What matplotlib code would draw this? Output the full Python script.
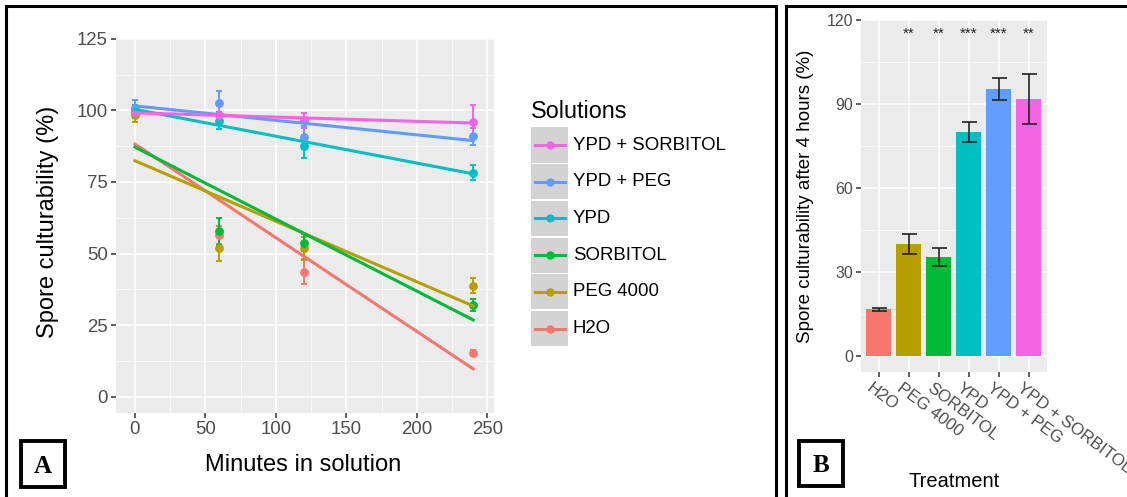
import numpy as np
import matplotlib
matplotlib.use("Agg")
import matplotlib.pyplot as plt
from matplotlib.patches import Rectangle
from matplotlib.lines import Line2D

plt.rcParams['font.family'] = ['Liberation Sans', 'DejaVu Sans']

# ---- data, panel A (spore culturability over time) ----
minutes = [0, 60, 120, 240]
solutions = ['H2O', 'PEG 4000', 'SORBITOL', 'YPD', 'YPD + PEG', 'YPD + SORBITOL']
h2o = [100.0, 56.5, 43.7, 15.4]
h2o_err = [2.0, 3.0, 4.5, 1.0]
peg4000 = [98.5, 51.8, 51.8, 38.8]
peg4000_err = [2.5, 4.5, 4.0, 2.5]
sorbitol = [99.5, 57.8, 53.8, 32.0]
sorbitol_err = [2.0, 4.7, 3.0, 2.0]
ypd = [100.0, 96.4, 87.4, 78.3]
ypd_err = [2.0, 3.0, 4.0, 2.5]
ypd_peg = [101.0, 102.6, 90.6, 90.9]
ypd_peg_err = [2.5, 4.3, 4.0, 3.0]
ypd_sorbitol = [99.5, 98.4, 96.5, 96.0]
ypd_sorbitol_err = [1.0, 3.0, 2.5, 6.0]

# ---- data, panel B (after 4 hours) ----
treatments = ['H2O', 'PEG 4000', 'SORBITOL', 'YPD', 'YPD + PEG', 'YPD + SORBITOL']
after_4h = [16.7, 39.9, 35.4, 80.0, 95.4, 91.8]
after_4h_err = [0.6, 3.6, 3.3, 3.4, 3.9, 9.0]
signif = ['', '**', '**', '***', '***', '**']
star_y = 115

colors = ['#F8766D', '#B79F00', '#00BA38', '#00BFC4', '#619CFF', '#F564E3']
series = [(h2o, h2o_err), (peg4000, peg4000_err), (sorbitol, sorbitol_err),
          (ypd, ypd_err), (ypd_peg, ypd_peg_err), (ypd_sorbitol, ypd_sorbitol_err)]

W, H = 1127, 497
fig = plt.figure(figsize=(W / 100, H / 100), dpi=100)


def box(x0, y0, x1, y1):
    # pixel box (top-left origin) -> figure fraction rect
    return [x0 / W, 1 - y1 / H, (x1 - x0) / W, (y1 - y0) / H]


def gg_style(ax):
    ax.set_facecolor('#EBEBEB')
    for s in ax.spines.values():
        s.set_visible(False)
    ax.grid(which='major', color='white', linewidth=1.1)
    ax.grid(which='minor', color='white', linewidth=0.5)
    ax.set_axisbelow(True)
    ax.tick_params(which='major', color='#333333', labelcolor='#4D4D4D', length=3.5, width=1.1, pad=2)
    ax.tick_params(which='minor', length=0)


# ---------------- panel A ----------------
axA = fig.add_axes(box(115.5, 38, 494, 413.3))
gg_style(axA)
axA.set_xlim(-13.8, 254.8)
axA.set_ylim(-5.8, 125.3)
axA.set_xticks([0, 50, 100, 150, 200, 250])
axA.set_xticks([25, 75, 125, 175, 225], minor=True)
axA.set_yticks([0, 25, 50, 75, 100, 125])
axA.set_yticks([12.5, 37.5, 62.5, 87.5, 112.5], minor=True)
axA.tick_params(labelsize=13.4)

x = np.array(minutes, dtype=float)
for (vals, errs), c in zip(series, colors):
    axA.errorbar(minutes, vals, yerr=errs, fmt='o', color=c, ms=5.3, capsize=2.2,
                 elinewidth=1.4, capthick=1.4, zorder=3)
    slope, icpt = np.polyfit(x, vals, 1)
    axA.plot(x, icpt + slope * x, color=c, lw=2.2, zorder=4)

fig.text(303 / W, 1 - 470.7 / H, 'Minutes in solution', ha='center', va='baseline', fontsize=17)
fig.text(48 / W, 1 - 222 / H, 'Spore culturability (%)', ha='center', va='center',
         rotation=90, fontsize=17)

# legend (reversed order, ggplot style)
fig.text(531 / W, 1 - 118.3 / H, 'Solutions', ha='left', va='baseline', fontsize=16.8)
key_top, key_h = 126.7, 36.7
for i, (name, c) in enumerate(zip(solutions[::-1], colors[::-1])):
    y0 = key_top + i * key_h
    fig.patches.append(Rectangle((531 / W, 1 - (y0 + key_h - 0.8) / H), 37.3 / W, (key_h - 1.6) / H,
                                 transform=fig.transFigure, facecolor='#D3D3D3', edgecolor='none'))
    yc = 1 - (y0 + key_h / 2) / H
    fig.lines.append(Line2D([535 / W, 565 / W], [yc, yc], transform=fig.transFigure,
                            color=c, lw=2.2))
    fig.lines.append(Line2D([550 / W], [yc], transform=fig.transFigure, marker='o',
                            ms=5, color=c))
    fig.text(573 / W, yc, name, ha='left', va='center', fontsize=13.4)

# ---------------- panel B ----------------
axB = fig.add_axes(box(860.7, 20, 1046.7, 371.7))
gg_style(axB)
pos = np.arange(len(treatments))
axB.set_xlim(-0.6, 5.6)
axB.set_ylim(-5.6, 120)
axB.set_yticks([0, 30, 60, 90, 120])
axB.set_yticks([15, 45, 75, 105], minor=True)
axB.set_xticks(pos)
axB.set_xticklabels([])
axB.tick_params(labelsize=11.5)
axB.bar(pos, after_4h, width=0.85, color=colors, zorder=2)
axB.errorbar(pos, after_4h, yerr=after_4h_err, fmt='none', ecolor='#222222',
             elinewidth=1.2, capsize=5.4, capthick=1.2, zorder=3)
for p, s in zip(pos, signif):
    if s:
        axB.text(p, star_y, s, ha='center', va='center', fontsize=11, color='#222222')
for p, t in zip(pos, treatments):
    axB.annotate(t, xy=(p, 0), xycoords=('data', 'axes fraction'), xytext=(-4, -6),
                 textcoords='offset points', ha='left', va='top', rotation=-37,
                 rotation_mode='anchor', fontsize=12.2, color='#4D4D4D')

fig.text(953.7 / W, 1 - 487 / H, 'Treatment', ha='center', va='baseline', fontsize=14.5)
fig.text(806 / W, 1 - 196 / H, 'Spore culturability after 4 hours (%)', ha='center',
         va='center', rotation=90, fontsize=13.5)

# ---------------- frames and panel letters ----------------
for x0, x1 in [(6, 776), (786, 1140)]:
    fig.patches.append(Rectangle((x0 / W, -0.05), (x1 - x0) / W, 1 - 6 / H + 0.05,
                                 transform=fig.transFigure, fill=False, edgecolor='black', lw=2.2))
for x0, x1, y0, y1, letter in [(20.5, 65, 440.5, 486.7, 'A'), (798.5, 843, 440.5, 485.5, 'B')]:
    fig.patches.append(Rectangle((x0 / W, 1 - y1 / H), (x1 - x0) / W, (y1 - y0) / H,
                                 transform=fig.transFigure, fill=False, edgecolor='black', lw=2.8))
    fig.text((x0 + x1) / 2 / W, 1 - (y0 + y1) / 2 / H, letter, ha='center', va='center_baseline',
             fontsize=18, fontweight='bold', family=['Liberation Serif', 'DejaVu Serif'])

fig.savefig('out.png', dpi=100)
